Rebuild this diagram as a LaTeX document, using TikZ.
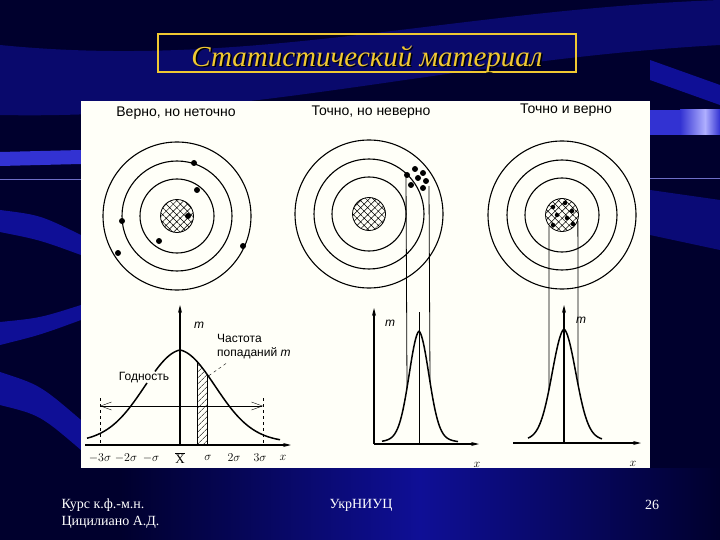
\documentclass[tikz,border=0pt]{standalone}
\usepackage{fontspec}
\setmainfont{Liberation Serif}
\newfontfamily\labelfont{Liberation Sans}
\usetikzlibrary{arrows.meta,patterns.meta,calc}
\definecolor{bgnavy}{RGB}{0,0,45}
\definecolor{bgblue}{RGB}{15,15,150}
\definecolor{bgband}{RGB}{50,50,210}
\definecolor{bglight}{RGB}{175,175,255}
\definecolor{bgline}{RGB}{110,110,200}
\definecolor{gold}{RGB}{240,200,50}
\definecolor{paper}{RGB}{255,255,248}

\begin{document}
\begin{tikzpicture}[x=1pt,y=-1pt,
  ring/.style={line width=1.1pt},
  hit/.style={circle,fill=black,inner sep=0pt,minimum size=6pt},
  hatched/.style={pattern={Hatch[angle=45,distance=5pt,line width=.5pt]}},
  curve/.style={line width=1.5pt},
  axis/.style={line width=1.1pt,-{Stealth[length=8pt,width=4pt]}},
  lbl/.style={font=\labelfont\fontsize{12}{14}\selectfont,inner sep=1pt},
  head/.style={font=\labelfont\fontsize{14}{16}\selectfont,inner sep=1pt},
  declare function={pk(\d,\s)=0.85*exp(-0.5*(\d/\s)^2)+0.15*exp(-abs(\d)/(2*\s));}]
\useasboundingbox (0,0) rectangle (720,540);
% background
\fill[bgnavy] (0,0) rectangle (720,540);
\fill[bgblue,opacity=.6] (0,45) .. controls (250,70) and (450,10) .. (720,0) -- (720,45) .. controls (450,60) and (250,120) .. (0,115) -- cycle;
\fill[bgband] (0,152) -- (81,150) -- (81,164) -- (0,166) -- cycle;
\draw[bgline] (0,179) -- (81,179) (650,178) -- (720,178);
\fill[bgblue] (0,210) .. controls (40,215) .. (81,235) -- (81,255) .. controls (40,240) .. (0,232) -- cycle;
\fill[bgblue] (0,322) .. controls (40,318) .. (81,305) -- (81,320) .. controls (40,335) .. (0,345) -- cycle;
\fill[bgblue] (0,372) .. controls (40,385) .. (81,420) -- (81,450) .. controls (40,415) .. (0,405) -- cycle;
\fill[bgband] (650,110) rectangle (720,135);
\shade[left color=bgband,right color=bglight] (680,110) rectangle (705,135);
\shade[left color=bglight,right color=bgband] (705,110) rectangle (720,135);
\fill[bgblue] (650,60) -- (720,85) -- (720,105) -- (650,80) -- cycle;
\fill[bgblue,opacity=.7] (650,190) -- (720,200) -- (720,250) -- (650,235) -- cycle;
\shade[left color=bgnavy,right color=bgblue] (120,468) rectangle (420,540);
\shade[left color=bgblue,right color=bgnavy] (420,468) rectangle (720,540);

% title
\node[draw=gold,line width=1.5pt,minimum width=418pt,minimum height=38pt] (titlebox) at (367,53) {};
\node[text=black,font=\itshape\fontsize{29}{32}\selectfont] at (368.5,60.5) {Статистический материал};
\node[text=gold,font=\itshape\fontsize{29}{32}\selectfont] (title) at (367,59) {Статистический материал};

% panel
\fill[paper] (81,101) rectangle (650,468);
\node[head] (head1) at (176,113) {Верно, но неточно};
\node[head] (head2) at (371,112) {Точно, но неверно};
\node[head] (head3) at (566,110) {Точно и верно};

% targets
\foreach \n/\cx/\cy in {a/177/216,b/369/214,c/562/215} {
  \foreach \r in {37,55,74}
    \draw[ring] (\cx,\cy) circle (\r);
  \node[circle,draw,line width=.8pt,hatched,minimum size=33pt,inner sep=0pt] (hole\n) at (\cx,\cy) {};
}
\foreach \p in {(194,163),(197,190),(188,216),(122,221),(159,241),(118,253),(243,246)}
  \node[hit] at \p {};
\foreach \p in {(407,175),(415,169),(423,173),(418,178),(426,181),(411,185),(423,188)}
  \node[hit] at \p {};
\foreach \p in {(553,207),(565,203),(572,211),(557,215),(567,218),(553,225),(573,224)}
  \node[hit,minimum size=4.5pt] at \p {};

% plot: Верно, но неточно
\coordinate (o1) at (180,445);
\draw[axis] (85,445) -- (291,445);
\draw[axis] (o1) -- (180,305);
\fill[pattern={Lines[angle=45,distance=4pt,line width=.5pt]}] (197,445) -- plot[domain=17:27,samples=6] ({180+\x},{445-95*pk(\x,36)}) -- (207,445) -- cycle;
\draw (197,445) -- (197,{445-95*pk(17,36)}) (207,445) -- (207,{445-95*pk(27,36)});
\draw[curve] plot[domain=-93:-33,samples=40] ({180+\x},{445-95*pk(\x,36)});
\draw[curve] plot[domain=-25:100,samples=80] ({180+\x},{445-95*pk(\x,36)});
\draw[dashed] (100,398) -- (100,445) (263,398) -- (263,445);
\coordinate (lo) at (100,406);
\coordinate (hi) at (263,406);
\draw[{Straight Barb[length=11pt,width=8pt]}-{Straight Barb[length=11pt,width=8pt]}] (lo) -- (hi);
\node[lbl,font=\labelfont\itshape\fontsize{12}{14}\selectfont] (m1) at (199,325) {m};
\node[lbl,align=left,anchor=west] (freq) at (216,347) {Частота\\попаданий \textit{m}};
\coordinate (bar) at (207,377);
\draw[dashed] ($(freq.south west)+(10,3)$) -- (bar);
\node[lbl] (good) at (144,378) {Годность};
\foreach \t/\px in {$-3\sigma$/100,$-2\sigma$/126,$-\sigma$/151,$\overline{\mathrm{X}}$/180,$\sigma$/208,$2\sigma$/234,$3\sigma$/260,$x$/283}
  \node[lbl,font=\fontsize{13}{15}\selectfont] at (\px,458) {\t};

% plot: Точно, но неверно
\coordinate (o2) at (374,444);
\draw[axis] (o2) -- (479,444);
\draw[axis] (o2) -- (374,308);
\draw[line width=.8pt] (419,444) -- (419,312);
\draw[curve] plot[domain=-37:39,samples=80] ({419+\x},{444-113*pk(\x,10)});
\draw[line width=.8pt] (406,176) -- (407,{444-113*pk(-12,10)});
\draw[line width=.8pt] (429,186) -- (430,{444-113*pk(11,10)});
\node[lbl,font=\labelfont\itshape\fontsize{12}{14}\selectfont] (m2) at (390,323) {m};
\node[lbl,font=\fontsize{13}{15}\selectfont] (x2) at (477,465) {$x$};

% plot: Точно и верно
\coordinate (o3) at (564,443);
\draw[axis] (513,443) -- (641,443);
\draw[axis] (o3) -- (564,305);
\draw[curve] plot[domain=-36:38,samples=80] ({564+\x},{443-114*pk(\x,12)});
\draw[line width=.8pt] (holec.220) -- (549,{443-114*pk(-15,12)});
\draw[line width=.8pt] (holec.340) -- (578,{443-114*pk(14,12)});
\node[lbl,font=\labelfont\itshape\fontsize{12}{14}\selectfont] (m3) at (581,320) {m};
\node[lbl,font=\fontsize{13}{15}\selectfont] (x3) at (633,464) {$x$};

% footer
\node[text=white,anchor=west,align=left,font=\fontsize{14}{17}\selectfont] (course) at (58,514) {Курс к.ф.-м.н.\\Цицилиано А.Д.};
\node[text=white,font=\fontsize{14}{16}\selectfont] (org) at (361,505) {УкрНИУЦ};
\node[text=white,font=\fontsize{14}{16}\selectfont] (page) at (652,505) {26};
\end{tikzpicture}
\end{document}
